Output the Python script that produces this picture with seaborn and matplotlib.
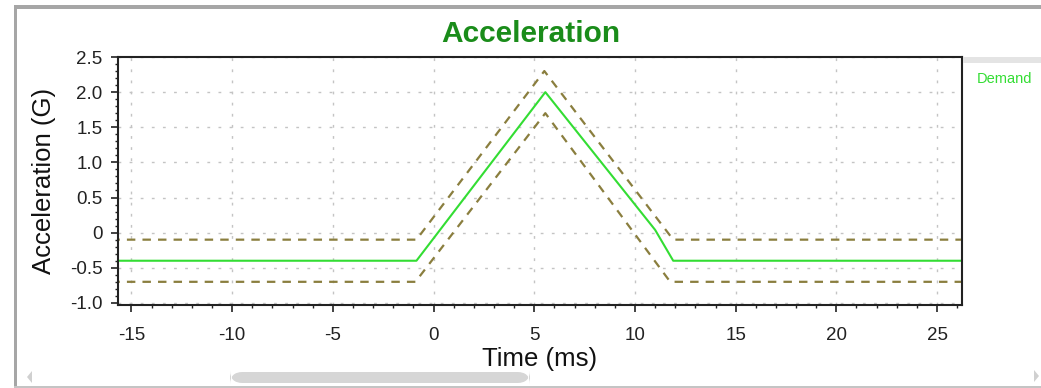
import matplotlib
matplotlib.use("Agg")
import matplotlib.pyplot as plt
from matplotlib.patches import Rectangle, FancyBboxPatch, Polygon
from matplotlib.ticker import MultipleLocator, FixedLocator
import seaborn as sns
import numpy as np

# ---- data ----
time_demand = [-16.0, -0.85, 5.55, 11.0, 11.9, 27.0]
accel_demand = [-0.4, -0.4, 2.0, 0.04, -0.4, -0.4]

time_upper = [-16.0, -0.85, 5.5, 11.9, 27.0]
accel_upper = [-0.1, -0.1, 2.3, -0.1, -0.1]

time_lower = [-16.0, -0.9, 5.55, 11.75, 27.0]
accel_lower = [-0.7, -0.7, 1.7, -0.7, -0.7]

x_ticks = [-15, -10, -5, 0, 5, 10, 15, 20, 25]
x_tick_labels = ["-15", "-10", "-5", "0", "5", "10", "15", "20", "25"]
y_ticks = [-1.0, -0.5, 0.0, 0.5, 1.0, 1.5, 2.0, 2.5]
y_tick_labels = ["-1.0", "-0.5", "0", "0.5", "1.0", "1.5", "2.0", "2.5"]

title_text = "Acceleration"
x_label = "Time (ms)"
y_label = "Acceleration (G)"
series_name = "Demand"

# ---- style ----
sns.set_style("white")
plt.rcParams["font.family"] = ["Liberation Sans", "DejaVu Sans"]

W, H = 1041, 388
fig = plt.figure(figsize=(W / 100, H / 100), dpi=100)
fig.patch.set_facecolor("white")

L, R, T, B = 118, 962, 57, 305
ax = fig.add_axes([L / W, 1 - B / H, (R - L) / W, (B - T) / H])
ax.set_facecolor("white")

green = "#33dd33"
olive = "#8a7e3e"

sns.lineplot(x=time_upper, y=accel_upper, ax=ax, sort=False, estimator=None,
             color=olive, linewidth=1.6, linestyle=(0, (3.8, 3.2)))
sns.lineplot(x=time_lower, y=accel_lower, ax=ax, sort=False, estimator=None,
             color=olive, linewidth=1.6, linestyle=(0, (3.8, 3.2)))
sns.lineplot(x=time_demand, y=accel_demand, ax=ax, sort=False, estimator=None,
             color=green, linewidth=1.5, label=series_name)

ax.set_xlim(-15.67, 26.24)
ax.set_ylim(-1.03, 2.5)

ax.xaxis.set_major_locator(FixedLocator(x_ticks))
ax.set_xticklabels(x_tick_labels)
ax.xaxis.set_minor_locator(MultipleLocator(1))
ax.yaxis.set_major_locator(FixedLocator(y_ticks))
ax.set_yticklabels(y_tick_labels)
ax.yaxis.set_minor_locator(MultipleLocator(0.1))

ax.tick_params(axis="both", which="major", direction="out", length=5, width=1.2,
               color="#222222", labelsize=13.5, labelcolor="#222222",
               bottom=True, left=True)
ax.tick_params(axis="both", which="minor", direction="out", length=2.5, width=1.0,
               color="#222222", bottom=True, left=True)
ax.tick_params(axis="x", which="major", pad=11)
ax.tick_params(axis="y", which="major", pad=6)

ax.grid(True, which="major", color="#c4c4c4", linestyle=(0, (2, 6)), linewidth=1.0)
ax.set_axisbelow(True)

for s in ax.spines.values():
    s.set_visible(True)
    s.set_color("#222222")
    s.set_linewidth(1.5)

ax.set_xlabel(x_label, fontsize=18.5, color="#111111")
ax.set_ylabel(y_label, fontsize=18.5, color="#111111")
ax.xaxis.set_label_coords(0.5, (B - 359) / (B - T))
ax.xaxis.label.set_va("center")
ax.yaxis.set_label_coords((44 - L) / (R - L), 0.5)
ax.yaxis.label.set_va("center")

# title
fig.text(531 / W, 1 - 34 / H, title_text, ha="center", va="center",
         fontsize=21.5, fontweight="bold", color="#1a8c1a")

# legend as text-only entry on the right
leg = ax.legend(loc="upper left", bbox_to_anchor=((962 - L) / (R - L), 1.0),
                frameon=False, handlelength=0, handletextpad=0,
                fontsize=10.5, borderaxespad=0.6)
for h in leg.legend_handles:
    h.set_visible(False)
for t in leg.get_texts():
    t.set_color(green)

# legend header band
fig.patches.append(Rectangle((963 / W, 1 - 63 / H), (W - 963) / W, 6 / H,
                             transform=fig.transFigure, facecolor="#e4e4e4",
                             edgecolor="none", zorder=0))

# window frame
frame_c = "#a6a6a6"
fig.patches.append(Rectangle((14 / W, 1 - 9 / H), (W - 14) / W, 4 / H,
                             transform=fig.transFigure, facecolor=frame_c,
                             edgecolor="none"))
fig.patches.append(Rectangle((14 / W, 0), 3 / W, (H - 5) / H,
                             transform=fig.transFigure, facecolor=frame_c,
                             edgecolor="none"))
fig.patches.append(Rectangle((14 / W, 0), (W - 14) / W, 2 / H,
                             transform=fig.transFigure, facecolor="#c4c4c4",
                             edgecolor="none"))

# scrollbar
fig.patches.append(FancyBboxPatch((230 / W, 1 - 383 / H), 300 / W, 11 / H,
                                  boxstyle="round,pad=0,rounding_size=0.012",
                                  transform=fig.transFigure, facecolor="#d6d6d6",
                                  edgecolor="none", mutation_aspect=W / H))
fig.patches.append(Polygon([(27 / W, 1 - 377 / H), (32 / W, 1 - 371 / H), (32 / W, 1 - 383 / H)],
                           closed=True, transform=fig.transFigure,
                           facecolor="#d0d0d0", edgecolor="none"))
fig.patches.append(Polygon([(1039 / W, 1 - 376 / H), (1034 / W, 1 - 370 / H), (1034 / W, 1 - 382 / H)],
                           closed=True, transform=fig.transFigure,
                           facecolor="#d0d0d0", edgecolor="none"))

fig.savefig("out.png", dpi=100)
